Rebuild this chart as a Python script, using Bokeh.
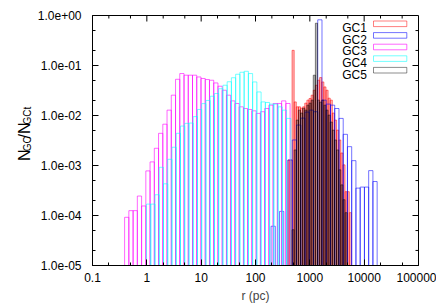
import numpy as np
from bokeh.plotting import figure
from bokeh.layouts import row
from bokeh.core.properties import value
from bokeh.models import (FixedTicker, CustomJSTickFormatter, Label,
                          BoxAnnotation, Range1d)
from bokeh.embed import file_html
from bokeh.resources import INLINE

# ---------------- data (histogram bins: log10 of first left edge, log10 bin width)
names = ["GC1", "GC2", "GC3", "GC4", "GC5"]

gc1_start, gc1_width = 2.595, 0.039
gc1_values = [1.29e-3, 1.29e-3, 0.201, 1.87e-2, 1.49e-2, 1.49e-2, 1.40e-2, 1.49e-2,
              1.77e-2, 2.03e-2, 2.19e-2, 2.55e-2, 3.2e-2, 4.03e-2, 5.07e-2, 5.74e-2,
              4.69e-2, 3.73e-2, 3.2e-2, 2.22e-2, 2.03e-2, 1.12e-2, 8.1e-3, 5.1e-3,
              3.24e-3, 1.78e-3, 1.03e-3, 3.0e-4, 3.0e-4, 1.14e-4]

gc2_start, gc2_width = 2.2865, 0.0781
gc2_values = [6.1e-5, None, 1.21e-4, None, 1.29e-3, 3.24e-3, 6.44e-3, 8.87e-3,
              1.17e-2, 1.28e-2, 1.19e-2, 0.82, 2.03e-2, 1.69e-2, 1.61e-2, 1.38e-2,
              8.75e-3, 4.2e-3, 2.38e-3, 1.25e-3, 3.53e-4, 3.7e-4, 3.7e-4, 7.9e-4,
              4.78e-4]

gc3_start, gc3_width = -0.409, 0.0781
gc3_values = [9.2e-5, 1.25e-4, 1.25e-4, 2.45e-4, 1.55e-4, 7.8e-4, 1.18e-3, 2.21e-3,
              4.4e-3, 6.7e-3, 1.28e-2, 2.55e-2, 5.3e-2, 6.9e-2, 6.4e-2, 6.4e-2,
              6.4e-2, 5.9e-2, 5.5e-2, 5.24e-2, 5.07e-2, 4.48e-2, 3.85e-2, 3.2e-2,
              2.55e-2, 1.96e-2, 1.74e-2, 1.49e-2, 1.38e-2, 1.32e-2, 1.24e-2, 1.1e-2,
              1.19e-2, 1.38e-2, 1.61e-2, 1.74e-2, 1.74e-2, 1.96e-2, 1.74e-2]

gc4_start, gc4_width = -0.0055, 0.0781
gc4_values = [1.69e-4, 1.69e-4, 2.6e-4, 9.2e-4, 4.3e-4, 1.33e-3, 2.32e-3, 4.4e-3,
              6.15e-3, 6.96e-3, 7.06e-3, 9.5e-3, 1.32e-2, 1.73e-2, 2.0e-2, 2.43e-2,
              2.75e-2, 3.43e-2, 4.03e-2, 4.73e-2, 5.69e-2, 6.68e-2, 7.32e-2, 7.66e-2,
              6.9e-2, 4.69e-2, 2.96e-2, 1.87e-2, 1.82e-2, 1.69e-2, 1.69e-2, 1.49e-2,
              1.28e-2, 8.75e-3]

gc5_start, gc5_width = 2.673, 0.039
gc5_values = [5.2e-5, 2.05e-3, 8.1e-3, 1.28e-2, 1.12e-2, 1.40e-2, 1.28e-2, 1.61e-2,
              1.77e-2, 2.03e-2, 6.4e-2, 0.70, 2.03e-2, 1.85e-2, 2.03e-2, 1.61e-2,
              1.28e-2, 1.02e-2, 7.4e-3, 5.1e-3, 3.24e-3, 2.05e-3, 8.2e-4, 4.1e-4,
              2.07e-4, 1.14e-4]

x_ticks = [0.1, 1, 10, 100, 1000, 10000, 100000]
y_ticks = [1e-5, 1e-4, 1e-3, 1e-2, 1e-1, 1.0]
x_label = "r (pc)"
y_label_parts = ["N", "GC", "/N", "GCt"]

colors = ["#ff0000", "#0000ff", "#ff00ff", "#00ffff", "#000000"]
line_alphas = [0.5, 0.55, 0.6, 0.55, 0.45]
fill_alphas = [0.28, 0.0, 0.0, 0.0, 0.28]

FONT = "Liberation Sans"
X0, X1 = 0.1, 1e5
Y0, Y1 = 1e-5, 1.0

# ---------------- main figure
p = figure(width=402, height=305, x_axis_type="log", y_axis_type="log",
           x_range=Range1d(X0, X1), y_range=Range1d(Y0, Y1),
           output_backend="svg", toolbar_location=None,
           min_border_left=55, min_border_right=18, min_border_top=15,
           min_border_bottom=39)
p.grid.visible = False
p.outline_line_color = "black"
p.outline_line_alpha = 1.0
p.outline_line_width = 1
p.background_fill_color = "white"
p.border_fill_color = "white"


def minor_of(ticks):
    out = []
    for t in ticks:
        out += [2 * t, 5 * t]
    return out


x_minor = [t for t in minor_of([0.01] + x_ticks) if X0 < t < X1]
y_minor = [t for t in minor_of([1e-6] + y_ticks) if Y0 < t < Y1]

p.xaxis.ticker = FixedTicker(ticks=x_ticks, minor_ticks=x_minor)
p.yaxis.ticker = FixedTicker(ticks=y_ticks, minor_ticks=y_minor)
p.xaxis.formatter = CustomJSTickFormatter(
    code="return tick >= 1 ? tick.toFixed(0) : String(tick);")
p.yaxis.formatter = CustomJSTickFormatter(code="""
const s = tick.toExponential(1);
const m = s.match(/^(.*)e([+-])(\\d+)$/);
let d = m[3];
if (d.length < 2) { d = '0' + d; }
return m[1] + 'e' + m[2] + d;
""")

for ax in (p.xaxis[0], p.yaxis[0]):
    ax.major_tick_in = 6
    ax.major_tick_out = 0
    ax.minor_tick_in = 3
    ax.minor_tick_out = 0
    ax.axis_line_color = "black"
    ax.major_tick_line_color = "black"
    ax.minor_tick_line_color = "black"
    ax.major_label_text_font = FONT
    ax.major_label_text_font_size = "12px"
    ax.major_label_text_color = "black"

p.xaxis.major_label_standoff = 7
p.yaxis.major_label_standoff = 11
p.xaxis.axis_label = x_label
p.xaxis.axis_label_text_font = FONT
p.xaxis.axis_label_text_font_size = "12px"
p.xaxis.axis_label_text_font_style = "normal"
p.xaxis.axis_label_standoff = 4

# mirrored inward ticks on the top and right frame edges
tick_style = dict(line_color="black", line_width=1, length_units="screen")
p.ray(x=x_ticks[1:-1], y=Y1, length=6, angle=-np.pi / 2, **tick_style)
p.ray(x=x_minor, y=Y1, length=3, angle=-np.pi / 2, **tick_style)
p.ray(x=X1, y=y_ticks[1:-1], length=6, angle=np.pi, **tick_style)
p.ray(x=X1, y=y_minor, length=3, angle=np.pi, **tick_style)

# ---------------- histograms (outlined boxes)
series = [(gc1_start, gc1_width, gc1_values), (gc2_start, gc2_width, gc2_values),
          (gc3_start, gc3_width, gc3_values), (gc4_start, gc4_width, gc4_values),
          (gc5_start, gc5_width, gc5_values)]

for (start, width, vals), color, la, fa in zip(series, colors, line_alphas, fill_alphas):
    v = np.array([np.nan if a is None else a for a in vals], dtype=float)
    k = np.arange(len(v))
    left = 10 ** (start + width * k)
    right = 10 ** (start + width * (k + 1))
    m = ~np.isnan(v)
    p.quad(left=left[m], right=right[m], bottom=Y0, top=v[m],
           fill_color=color if fa > 0 else None, fill_alpha=fa,
           line_color=color, line_alpha=la, line_width=1)

# ---------------- legend (gnuplot style: text then sample box), frame-relative px
row0, row_step = 241.7, 11.6
for i, (nm, color, la) in enumerate(zip(names, colors, line_alphas)):
    yc = row0 - i * row_step
    p.add_layout(Label(x=274.3, y=yc - 4.3, x_units="screen", y_units="screen",
                       text=nm, text_align="right", text_baseline="alphabetic",
                       text_font=FONT, text_font_size="12px", text_color="black"))
    p.add_layout(BoxAnnotation(left=281, right=314.3, bottom=yc - 2.8, top=yc + 2.8,
                               left_units="screen", right_units="screen",
                               bottom_units="screen", top_units="screen",
                               fill_color=None, fill_alpha=0, line_color=color,
                               line_alpha=la, line_width=1))

# ---------------- y-axis label strip: N_GC / N_GCt (rotated, with subscripts)
ylab = figure(width=34, height=305, x_range=Range1d(0, 34), y_range=Range1d(0, 305),
              output_backend="svg", toolbar_location=None, min_border=0,
              x_axis_location=None, y_axis_location=None)
ylab.grid.visible = False
ylab.outline_line_color = None
ylab.background_fill_color = "white"
ylab.border_fill_color = "white"
ylab.text(x=[24.0, 24.0], y=[127.5, 155.0], text=[y_label_parts[0], y_label_parts[2]],
          angle=np.pi / 2, text_align="left", text_baseline="alphabetic",
          text_font=value(FONT), text_font_size=value("16px"), text_color="black")
ylab.text(x=[27.0, 27.0], y=[139.5, 172.0], text=[y_label_parts[1], y_label_parts[3]],
          angle=np.pi / 2, text_align="left", text_baseline="alphabetic",
          text_font=value(FONT), text_font_size=value("10px"), text_color="black")

layout = row(ylab, p)
open("out.html", "w").write(file_html(layout, INLINE))
